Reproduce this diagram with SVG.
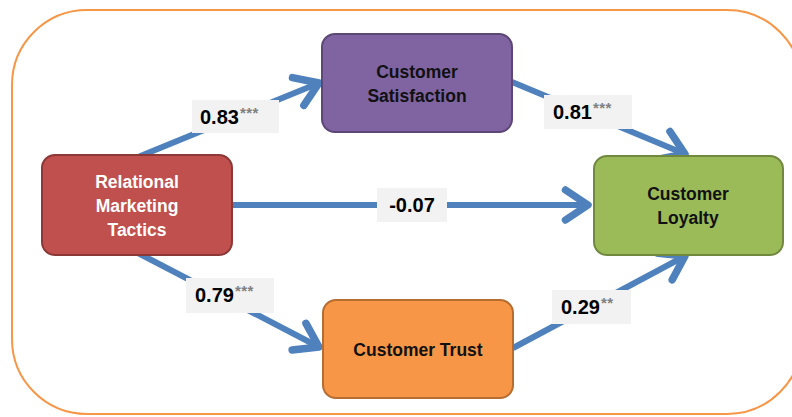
<svg xmlns="http://www.w3.org/2000/svg" width="792" height="417" viewBox="0 0 792 417">
<defs>
<style>
.node{stroke-width:2}
.nt{font-family:"Liberation Sans",Arial,sans-serif;font-weight:bold;font-size:17.5px;text-anchor:middle}
.lbl{fill:#F2F2F2}
.lt{font-family:"Liberation Sans",Arial,sans-serif;font-weight:bold;font-size:20px;fill:#000}
.st{font-size:15px;fill:#808080;letter-spacing:0.5px}
.conn{stroke:#4F81BD;stroke-width:6;fill:none;marker-end:url(#ah)}
</style>
<marker id="ah" markerUnits="userSpaceOnUse" markerWidth="40" markerHeight="40" viewBox="-24 -16 30 32" refX="0" refY="0" orient="auto">
<path d="M-18,-12 L0,0 L-18,12" fill="none" stroke="#4F81BD" stroke-width="6" stroke-linecap="round" stroke-linejoin="round"/>
</marker>
</defs>
<rect x="0" y="0" width="792" height="417" fill="#fff"/>
<rect x="12" y="10" width="790" height="404" rx="75" ry="75" fill="#fff" stroke="#F79646" stroke-width="2"/>
<g id="connectors">
<line class="conn" x1="138" y1="157" x2="319" y2="83"/>
<line class="conn" x1="512" y1="82" x2="685" y2="154"/>
<line class="conn" x1="232" y1="205" x2="588" y2="205"/>
<line class="conn" x1="138" y1="253" x2="319" y2="347"/>
<line class="conn" x1="513" y1="348" x2="685" y2="256"/>
</g>
<g id="labels">
<rect class="lbl" x="192" y="100" width="87" height="33"/>
<text class="lt" x="200" y="124">0.83<tspan class="st" dx="1" dy="-6">***</tspan></text>
<rect class="lbl" x="544" y="95" width="88" height="34"/>
<text class="lt" x="553" y="119">0.81<tspan class="st" dx="1" dy="-6">***</tspan></text>
<rect class="lbl" x="377" y="188" width="70" height="34"/>
<text class="lt" x="412" y="212" text-anchor="middle">-0.07</text>
<rect class="lbl" x="186" y="278" width="88" height="35"/>
<text class="lt" x="195" y="302">0.79<tspan class="st" dx="1" dy="-6">***</tspan></text>
<rect class="lbl" x="552" y="290" width="79" height="34"/>
<text class="lt" x="561" y="314">0.29<tspan class="st" dx="1" dy="-6">**</tspan></text>
</g>
<g id="rmt">
<rect class="node" x="42" y="155" width="190" height="100" rx="13" fill="#C0504D" stroke="#8C3836"/>
<text class="nt" fill="#fff"><tspan x="137" y="188">Relational</tspan><tspan x="137" y="212">Marketing</tspan><tspan x="137" y="236">Tactics</tspan></text>
</g>
<g id="satisfaction">
<rect class="node" x="322" y="34" width="190" height="98" rx="13" fill="#8064A2" stroke="#5C4776"/>
<text class="nt" fill="#111"><tspan x="417" y="78">Customer</tspan><tspan x="417" y="102">Satisfaction</tspan></text>
</g>
<g id="loyalty">
<rect class="node" x="594" y="156" width="189" height="99" rx="13" fill="#9BBB59" stroke="#71893F"/>
<text class="nt" fill="#111"><tspan x="688" y="200">Customer</tspan><tspan x="688" y="224">Loyalty</tspan></text>
</g>
<g id="trust">
<rect class="node" x="323" y="300" width="190" height="98" rx="13" fill="#F79646" stroke="#B66D31"/>
<text class="nt" fill="#111" x="418" y="356">Customer Trust</text>
</g>
</svg>
